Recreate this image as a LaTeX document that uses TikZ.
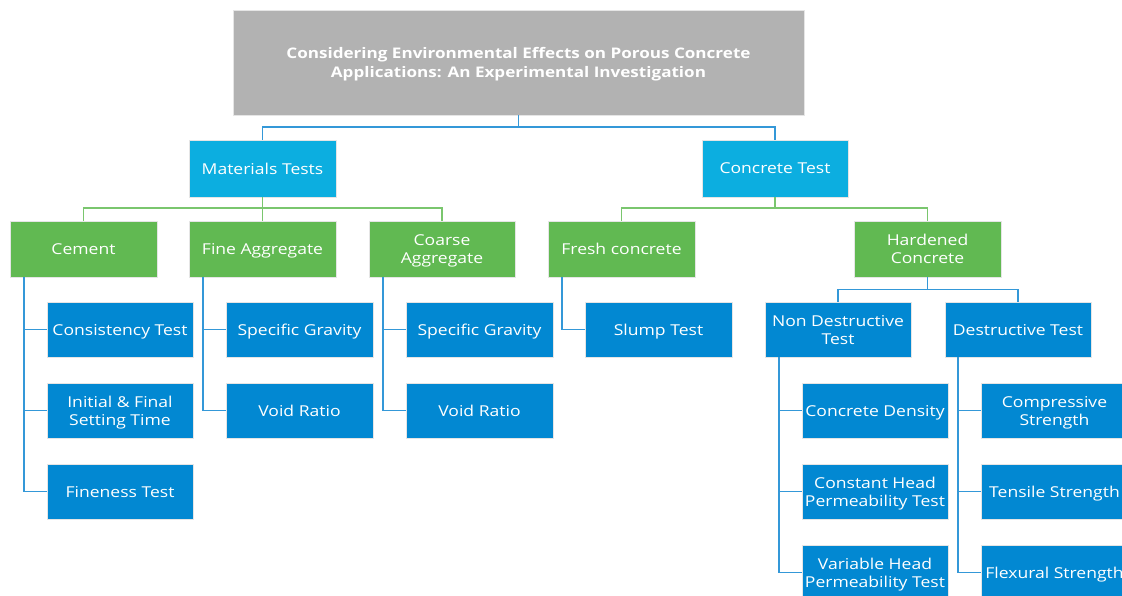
\documentclass[tikz,border=0pt]{standalone}
\usepackage{fontspec}
\setmainfont{Open Sans}[FakeStretch=1.17]
\definecolor{titlegray}{RGB}{178,178,178}
\definecolor{cyanbox}{RGB}{12,174,224}
\definecolor{greenbox}{RGB}{97,185,82}
\definecolor{bluebox}{RGB}{2,136,210}
\definecolor{blueline}{RGB}{52,152,216}
\definecolor{greenline}{RGB}{122,198,110}
\tikzset{
  boxbase/.style={draw=white!90!black, line width=0.8pt, text=white, align=center, inner sep=0pt,
    text depth=0pt, font=\fontsize{15}{18}\selectfont},
  titlebox/.style={boxbase, fill=titlegray, font=\fontsize{14.6}{19}\selectfont\bfseries},
  cyanb/.style={boxbase, fill=cyanbox},
  greenb/.style={boxbase, fill=greenbox},
  blueb/.style={boxbase, fill=bluebox},
  bl/.style={draw=blueline, line width=1.8pt},
  gl/.style={draw=greenline, line width=1.8pt},
}
% \bx{name}{x1}{y1}{x2}{y2}{style}{text}
\newcommand{\bx}[7]{%
  \pgfmathsetmacro{\cx}{(#2+#4)/2}\pgfmathsetmacro{\cy}{(#3+#5)/2}%
  \pgfmathsetmacro{\ww}{#4-#2}\pgfmathsetmacro{\hh}{#5-#3}%
  \node[#6, minimum width=\ww pt, minimum height=\hh pt] (#1) at (\cx,\cy) {#7};}
\begin{document}
\begin{tikzpicture}[x=1pt,y=-1pt]
\useasboundingbox (0,0) rectangle (1122,596);
% title
\bx{title}{233}{10}{804}{115}{titlebox}{Considering Environmental Effects on Porous Concrete\\Applications: An Experimental Investigation}
% level 1
\bx{mat}{189}{140}{336}{197}{cyanb}{Materials Tests}
\bx{con}{702}{140}{848}{197}{cyanb}{Concrete Test}
% level 2
\bx{cem}{10}{221}{157}{277}{greenb}{Cement}
\bx{fa}{189}{221}{336}{277}{greenb}{Fine Aggregate}
\bx{ca}{369}{221}{515}{277}{greenb}{Coarse\\Aggregate}
\bx{fc}{548}{221}{695}{277}{greenb}{Fresh concrete}
\bx{hc}{854}{221}{1001}{277}{greenb}{Hardened\\Concrete}
% cement tests
\bx{cons}{47}{302}{193}{357}{blueb}{Consistency Test}
\bx{init}{47}{383}{193}{438}{blueb}{Initial \& Final\\Setting Time}
\bx{fine}{47}{464}{193}{519}{blueb}{Fineness Test}
% fine aggregate tests
\bx{fasg}{226}{302}{373}{357}{blueb}{Specific Gravity}
\bx{favr}{226}{383}{373}{438}{blueb}{Void Ratio}
% coarse aggregate tests
\bx{casg}{406}{302}{553}{357}{blueb}{Specific Gravity}
\bx{cavr}{406}{383}{553}{438}{blueb}{Void Ratio}
% fresh
\bx{slump}{585}{302}{732}{357}{blueb}{Slump Test}
% hardened
\bx{nd}{765}{302}{911}{357}{blueb}{Non Destructive\\Test}
\bx{de}{945}{302}{1091}{357}{blueb}{Destructive Test}
\bx{dens}{802}{383}{948}{438}{blueb}{Concrete Density}
\bx{chp}{802}{464}{948}{519}{blueb}{Constant Head\\Permeability Test}
\bx{vhp}{802}{545}{948}{600}{blueb}{Variable Head\\Permeability Test}
\bx{comp}{981}{383}{1128}{438}{blueb}{Compressive\\Strength}
\bx{tens}{981}{464}{1128}{519}{blueb}{Tensile Strength}
\bx{flex}{981}{545}{1128}{600}{blueb}{Flexural Strength}
% connectors title -> level 1
\coordinate (tj) at ([yshift=-12pt]title.south);
\draw[bl] (title.south) -- (tj) -| (mat.north);
\draw[bl] (tj) -| (con.north);
% materials -> green
\coordinate (mj) at ([yshift=-11pt]mat.south);
\draw[gl] (mat.south) -- (mj) -| (cem.north);
\draw[gl] (mj) -| (fa.north);
\draw[gl] (mj) -| (ca.north);
% concrete -> green
\coordinate (cj) at ([yshift=-11pt]con.south);
\draw[gl] (con.south) -- (cj) -| (fc.north);
\draw[gl] (cj) -| (hc.north);
% hardened -> nd/de
\coordinate (hj) at ([yshift=-12pt]hc.south);
\draw[bl] (hc.south) -- (hj) -| (nd.north);
\draw[bl] (hj) -| (de.north);
% cement list
\coordinate (c1) at ([xshift=14pt]cem.south west);
\draw[bl] (c1) |- (cons.west);
\draw[bl] (c1) |- (init.west);
\draw[bl] (c1) |- (fine.west);
% fine aggregate list
\coordinate (f1) at ([xshift=14pt]fa.south west);
\draw[bl] (f1) |- (fasg.west);
\draw[bl] (f1) |- (favr.west);
% coarse aggregate list
\coordinate (k1) at ([xshift=14pt]ca.south west);
\draw[bl] (k1) |- (casg.west);
\draw[bl] (k1) |- (cavr.west);
% fresh list
\coordinate (r1) at ([xshift=14pt]fc.south west);
\draw[bl] (r1) |- (slump.west);
% non destructive list
\coordinate (n1) at ([xshift=14pt]nd.south west);
\draw[bl] (n1) |- (dens.west);
\draw[bl] (n1) |- (chp.west);
\draw[bl] (n1) |- (vhp.west);
% destructive list
\coordinate (d1) at ([xshift=13pt]de.south west);
\draw[bl] (d1) |- (comp.west);
\draw[bl] (d1) |- (tens.west);
\draw[bl] (d1) |- (flex.west);
\end{tikzpicture}
\end{document}
